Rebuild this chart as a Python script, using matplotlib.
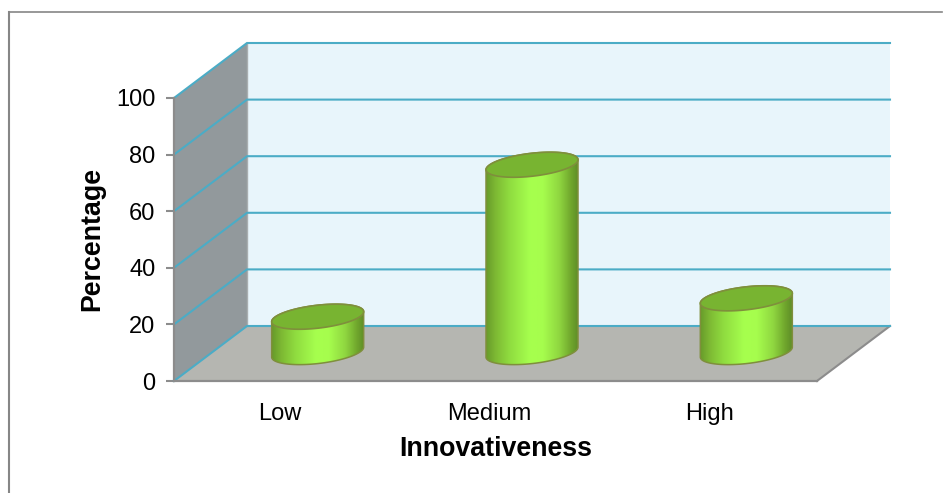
import numpy as np
import matplotlib
matplotlib.use("Agg")
import matplotlib.pyplot as plt
from matplotlib.patches import Polygon
from matplotlib.colors import LinearSegmentedColormap
from matplotlib.lines import Line2D

categories = ["Low", "Medium", "High"]
values = [12.5, 66.2, 19]
y_ticks = [0, 20, 40, 60, 80, 100]
x_title = "Innovativeness"
y_title = "Percentage"

W, H = 944, 493
plt.rcParams["font.family"] = ["Liberation Sans", "DejaVu Sans"]
fig = plt.figure(figsize=(W / 100, H / 100), dpi=100, facecolor="white")

L, R, T, B = 174, 817, 98, 381
ax = fig.add_axes([L / W, 1 - B / H, (R - L) / W, (B - T) / H])
ax.set_xlim(0, 3)
ax.set_ylim(0, 100)
ax.patch.set_visible(False)
for s in ("top", "right"):
    ax.spines[s].set_visible(False)
for s in ("left", "bottom"):
    ax.spines[s].set_color("#8c8c8c")
    ax.spines[s].set_linewidth(1.6)
    ax.spines[s].set_zorder(6)

px_x = (R - L) / 3
px_y = (B - T) / 100
DX = 73 / px_x
DY = 55 / px_y

back = "#e8f5fb"
wall = "#92999c"
floor = "#b5b6b1"
grid = "#4bacc6"
edge = "#8c8c8c"

kw = dict(clip_on=False, linewidth=0)
ax.add_patch(Polygon([(DX, DY), (3 + DX, DY), (3 + DX, 100 + DY), (DX, 100 + DY)], fc=back, zorder=1, **kw))
ax.add_patch(Polygon([(0, 0), (DX, DY), (DX, 100 + DY), (0, 100)], fc=wall, zorder=1, **kw))
ax.add_patch(Polygon([(0, 0), (3, 0), (3 + DX, DY), (DX, DY)], fc=floor, zorder=1, **kw))
ax.add_line(Line2D([3, 3 + DX], [0, DY], color=edge, lw=1.5, clip_on=False, zorder=2))
ax.add_line(Line2D([DX, DX], [DY, 100 + DY], color="#a9aeb0", lw=1, clip_on=False, zorder=2))
for v in y_ticks:
    ax.add_line(Line2D([0, DX, 3 + DX], [v, v + DY, v + DY], color=grid, lw=1.5, clip_on=False,
                       zorder=2, solid_joinstyle="miter"))

cmap = LinearSegmentedColormap.from_list("cyl", [
    (0.0, "#679a2a"), (0.10, "#7db833"), (0.25, "#8fdb3f"), (0.48, "#a6ff4e"), (0.62, "#a6fd4d"),
    (0.80, "#8fd640"), (0.93, "#6fa52c"), (1.0, "#5f8f28")])
grad = np.linspace(0, 1, 256).reshape(1, -1)

half_w = 46 / px_x
ry = 11.5 / px_y
shear = 5 / px_y
t = np.linspace(0, 2 * np.pi, 200)
base = DY / 2 + 0.5
outline = "#7f8f3c"
for i, v in enumerate(values):
    cx = i + 0.5 + DX / 2
    ex = cx + half_w * np.cos(t)
    off = ry * np.sin(t) + shear * np.cos(t)
    top = base + v
    lower = t > np.pi
    order = np.argsort(ex[lower])
    lx, ly = ex[lower][order], off[lower][order]
    ux, uy = ex[~lower], off[~lower]
    oi = np.argsort(ux)
    ux, uy = ux[oi], uy[oi]
    body = np.r_[np.c_[lx, base + ly], np.c_[ux[::-1], top + uy[::-1]]]
    im = ax.imshow(grad, extent=[cx - half_w, cx + half_w, base - 20, top + 20], cmap=cmap,
                   aspect="auto", zorder=3, interpolation="bilinear")
    poly = Polygon(body, closed=True, fc="none", ec=outline, lw=1.1, clip_on=False, zorder=4)
    ax.add_patch(poly)
    im.set_clip_path(poly)
    ax.add_patch(Polygon(np.c_[ex, top + off], closed=True, fc="#78b431", ec=outline, lw=1.2,
                         clip_on=False, zorder=5))
ax.set_xlim(0, 3)
ax.set_ylim(0, 100)
ax.set_aspect("auto")

ax.set_yticks(y_ticks)
ax.tick_params(axis="y", length=5.5, width=1.5, color=edge, labelsize=17, pad=8, labelcolor="black")
ax.set_xticks([0.495, 1.47, 2.5])
ax.set_xticklabels(categories)
ax.tick_params(axis="x", length=0, labelsize=17, pad=15.5, labelcolor="black")
ax.set_xlabel(x_title, fontsize=19.3, fontweight="bold")
ax.xaxis.set_label_coords((496 - L) / (R - L), -(449 - B) / (B - T), transform=ax.transAxes)
ax.xaxis.label.set_va("center")
ax.set_ylabel(y_title, fontsize=19.3, fontweight="bold")
ax.yaxis.set_label_coords((92 - L) / (R - L), (B - 239) / (B - T), transform=ax.transAxes)
ax.yaxis.label.set_va("center")

fig.add_artist(Line2D([8.5 / W, 8.5 / W], [0, 1 - 11.5 / H], color="#868686", lw=1.5, transform=fig.transFigure))
fig.add_artist(Line2D([8.5 / W, 942 / W], [1 - 11.5 / H, 1 - 11.5 / H], color="#868686", lw=1.2, transform=fig.transFigure))

fig.savefig("out.png", dpi=100)
